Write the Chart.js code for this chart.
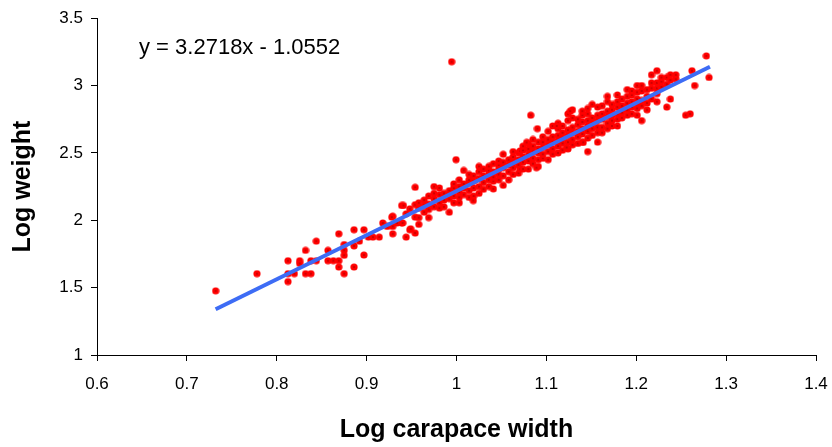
<!DOCTYPE html>
<html>
<head>
<meta charset="utf-8">
<script src="https://cdn.jsdelivr.net/npm/chart.js@4.4.1/dist/chart.umd.min.js"></script>
<style>
  html, body { margin: 0; padding: 0; background: #fff; }
  canvas { display: block; }
</style>
</head>
<body>
<canvas id="chart" width="832" height="447"></canvas>
<script>
// Log carapace width (x) and log weight (y)
const widthX = [
  0.732, 0.778, 0.8125, 0.8125, 0.8125, 0.8196, 0.8255, 0.8255, 0.832, 0.832,
  0.838, 0.838, 0.844, 0.844, 0.857, 0.857, 0.863, 0.869, 0.869, 0.869,
  0.875, 0.875, 0.875, 0.875, 0.886, 0.886, 0.886, 0.892, 0.897, 0.897,
  0.902, 0.907, 0.914, 0.918, 0.923, 0.929, 0.929, 0.929, 0.928, 0.934,
  0.939, 0.939, 0.944, 0.944, 0.948, 0.948, 0.954, 0.954, 0.954, 0.954,
  0.949, 0.941, 0.940,
  0.958, 0.958, 0.958, 0.958,
  0.964, 0.964, 0.964,
  0.969, 0.969, 0.969, 0.969,
  0.975, 0.975, 0.975, 0.975,
  0.981, 0.981, 0.981, 0.981,
  0.986, 0.986, 0.986,
  0.992, 0.992, 0.992, 0.992,
  0.997, 0.997, 0.997, 0.997, 0.9995, 0.9946,
  1.003, 1.003, 1.003, 1.003, 1.003,
  1.008, 1.008, 1.008, 1.008,
  1.014, 1.014, 1.014, 1.014, 1.014,
  1.019, 1.019, 1.019, 1.019, 1.0187,
  1.025, 1.025, 1.025, 1.025, 1.025,
  1.030, 1.030, 1.030, 1.030,
  1.036, 1.036, 1.036, 1.036, 1.036,
  1.041, 1.041, 1.041, 1.041, 1.041,
  1.047, 1.047, 1.047, 1.047, 1.047,
  1.052, 1.052, 1.052, 1.052, 1.052,
  1.058, 1.058, 1.058, 1.058,
  1.063, 1.063, 1.063, 1.063, 1.063,
  1.069, 1.069, 1.069, 1.069, 1.0707, 1.0707,
  1.074, 1.074, 1.074, 1.074, 1.074,
  1.080, 1.080, 1.080, 1.080, 1.080, 1.078,
  1.085, 1.085, 1.085, 1.085, 1.085, 1.0826,
  1.091, 1.091, 1.091, 1.091, 1.091, 1.090, 1.089,
  1.096, 1.096, 1.096, 1.096, 1.096,
  1.102, 1.102, 1.102, 1.102, 1.102,
  1.107, 1.107, 1.107, 1.107, 1.107,
  1.113, 1.113, 1.113, 1.113, 1.113, 1.113, 1.1115,
  1.118, 1.118, 1.118, 1.118, 1.118,
  1.124, 1.124, 1.124, 1.124, 1.124, 1.124, 1.1226,
  1.129, 1.129, 1.129, 1.129, 1.129, 1.129, 1.1265,
  1.135, 1.135, 1.135, 1.135, 1.135,
  1.140, 1.140, 1.140, 1.140, 1.140, 1.140, 1.141,
  1.146, 1.146, 1.146, 1.146, 1.146, 1.146, 1.146,
  1.151, 1.151, 1.151, 1.151, 1.151,
  1.157, 1.157, 1.157, 1.157, 1.157, 1.157,
  1.162, 1.162, 1.162, 1.162, 1.162,
  1.168, 1.168, 1.168, 1.168, 1.168, 1.168,
  1.173, 1.173, 1.173, 1.173, 1.173,
  1.179, 1.179, 1.179, 1.179, 1.179, 1.179,
  1.184, 1.184, 1.184, 1.184,
  1.190, 1.190, 1.190, 1.190, 1.190,
  1.195, 1.195, 1.195, 1.195, 1.195,
  1.201, 1.201, 1.201, 1.201, 1.201, 1.201,
  1.206, 1.206, 1.206, 1.206, 1.206,
  1.212, 1.212, 1.212, 1.212,
  1.217, 1.217, 1.217, 1.217,
  1.223, 1.223, 1.223, 1.223, 1.223,
  1.228, 1.228, 1.228,
  1.234, 1.234, 1.234,
  1.238, 1.238, 1.238,
  1.244, 1.244,
  1.255, 1.260, 1.262, 1.265, 1.278, 1.281
];
const weightY = [
  1.476, 1.604, 1.70, 1.604, 1.545, 1.604, 1.70, 1.68, 1.777, 1.604,
  1.70, 1.604, 1.845, 1.70, 1.777, 1.70, 1.70, 1.90, 1.70, 1.653,
  1.82, 1.777, 1.74, 1.604, 1.93, 1.81, 1.653, 1.845, 1.93, 1.742,
  1.875, 1.875, 1.875, 1.98, 1.954, 1.954, 1.90, 2.03, 2.023, 1.98,
  1.98, 2.11, 1.875, 2.048, 1.93, 2.085, 1.905, 2.245, 2.116, 2.023,
  1.937, 2.11, 1.98,
  2.02, 2.09, 2.13, 1.97,
  2.06, 2.11, 2.15,
  2.02, 2.12, 2.18, 2.08,
  2.10, 2.16, 2.20, 2.25,
  2.09, 2.13, 2.19, 2.24,
  2.10, 2.15, 2.20,
  2.06, 2.16, 2.22, 2.19,
  2.13, 2.18, 2.24, 2.27, 2.45, 3.177,
  2.17, 2.21, 2.25, 2.30, 2.13,
  2.19, 2.24, 2.27, 2.37,
  2.17, 2.22, 2.28, 2.30, 2.34,
  2.18, 2.24, 2.29, 2.33, 2.146,
  2.20, 2.25, 2.31, 2.36, 2.40,
  2.23, 2.28, 2.33, 2.38,
  2.25, 2.30, 2.34, 2.37, 2.40,
  2.29, 2.32, 2.36, 2.42, 2.233,
  2.30, 2.34, 2.38, 2.41, 2.44,
  2.26, 2.33, 2.39, 2.43, 2.49,
  2.30, 2.36, 2.41, 2.45,
  2.34, 2.39, 2.43, 2.47, 2.51,
  2.35, 2.41, 2.45, 2.50, 2.515, 2.38,
  2.38, 2.43, 2.47, 2.52, 2.55,
  2.38, 2.44, 2.49, 2.53, 2.57, 2.578,
  2.42, 2.46, 2.51, 2.55, 2.60, 2.78,
  2.40, 2.45, 2.50, 2.53, 2.58, 2.68, 2.39,
  2.46, 2.49, 2.54, 2.58, 2.62,
  2.45, 2.51, 2.56, 2.60, 2.66,
  2.49, 2.53, 2.58, 2.62, 2.70,
  2.50, 2.55, 2.59, 2.63, 2.68, 2.72, 2.70,
  2.52, 2.57, 2.61, 2.65, 2.70,
  2.53, 2.58, 2.63, 2.67, 2.74, 2.79, 2.54,
  2.56, 2.60, 2.65, 2.69, 2.76, 2.82, 2.81,
  2.57, 2.62, 2.66, 2.71, 2.75,
  2.58, 2.64, 2.68, 2.73, 2.78, 2.81, 2.578,
  2.51, 2.61, 2.66, 2.70, 2.74, 2.79, 2.83,
  2.63, 2.68, 2.72, 2.76, 2.86,
  2.58, 2.65, 2.69, 2.74, 2.78, 2.84,
  2.65, 2.69, 2.75, 2.79, 2.85,
  2.68, 2.72, 2.77, 2.81, 2.88, 2.92,
  2.74, 2.78, 2.82, 2.86, 2.70,
  2.70, 2.75, 2.79, 2.84, 2.88, 2.93,
  2.76, 2.80, 2.85, 2.90,
  2.78, 2.82, 2.87, 2.92, 2.97,
  2.79, 2.84, 2.88, 2.93, 2.96,
  2.78, 2.83, 2.87, 2.90, 2.95, 3.00,
  2.74, 2.85, 2.89, 2.96, 3.00,
  2.82, 2.87, 2.92, 2.97,
  2.90, 2.98, 3.02, 3.08,
  2.88, 2.94, 2.98, 3.02, 3.11,
  2.99, 3.03, 3.06,
  2.84, 3.01, 3.06,
  2.90, 3.04, 3.08,
  3.05, 3.08,
  2.78, 2.79, 3.11, 3.00, 3.22, 3.06
];

// Fitted line (from the chart label) and its x range
const fitSlope = 3.2718;
const fitIntercept = -1.0552;
const fitX = [0.732, 1.282];

// Axis ticks
const xTickValues = [0.6, 0.7, 0.8, 0.9, 1.0, 1.1, 1.2, 1.3, 1.4];
const xTickLabels = ["0.6", "0.7", "0.8", "0.9", "1", "1.1", "1.2", "1.3", "1.4"];
const yTickValues = [1, 1.5, 2, 2.5, 3, 3.5];
const yTickLabels = ["1", "1.5", "2", "2.5", "3", "3.5"];

const FONT = "'Liberation Sans', Arial, sans-serif";

// red marker with the small dark centre dot
function makeMarker() {
  const c = document.createElement("canvas");
  c.width = 8; c.height = 8;
  const g = c.getContext("2d");
  g.fillStyle = "#ff0000";
  g.beginPath();
  g.arc(4, 4, 3.6, 0, Math.PI * 2);
  g.fill();
  g.fillStyle = "#400000";
  g.fillRect(3.5, 3.5, 1, 1);
  return c;
}

const points = widthX.map((x, i) => ({ x: x, y: weightY[i] }));
const fitLine = fitX.map(x => ({ x: x, y: fitSlope * x + fitIntercept }));

const equationLabel = {
  id: "equationLabel",
  afterDraw(chart) {
    const ctx = chart.ctx;
    ctx.save();
    ctx.font = "22px " + FONT;
    ctx.fillStyle = "#000";
    ctx.textBaseline = "alphabetic";
    ctx.fillText("y = " + fitSlope.toFixed(4) + "x - " + (-fitIntercept).toFixed(4), 139, 54);
    ctx.restore();
  }
};

new Chart(document.getElementById("chart"), {
  type: "scatter",
  data: {
    datasets: [
      {
        label: "Fit",
        data: fitLine,
        showLine: true,
        borderColor: "#3d6cf5",
        borderWidth: 4,
        pointRadius: 0,
        order: 0
      },
      {
        label: "Data",
        data: points,
        pointStyle: makeMarker(),
        pointRadius: 4,
        order: 1
      }
    ]
  },
  plugins: [equationLabel],
  options: {
    responsive: false,
    animation: false,
    layout: { padding: { left: 0, right: 16, top: 17, bottom: 0 } },
    plugins: {
      legend: { display: false },
      tooltip: { enabled: false }
    },
    scales: {
      x: {
        type: "linear",
        min: 0.6,
        max: 1.4,
        afterBuildTicks: axis => { axis.ticks = xTickValues.map(v => ({ value: v })); },
        afterFit: axis => {
          axis.height = 92;
          axis.paddingLeft = 0;
          axis.paddingRight = 0;
        },
        ticks: {
          callback: (v, i) => xTickLabels[i],
          color: "#000",
          font: { family: FONT, size: 17 },
          padding: 13,
          maxRotation: 0
        },
        grid: { drawOnChartArea: false, drawTicks: true, tickLength: 6, color: "#000" },
        border: { color: "#000", width: 1 },
        title: {
          display: true,
          text: "Log carapace width",
          color: "#000",
          font: { family: FONT, size: 25, weight: "bold" },
          padding: { top: 0, bottom: 2 }
        }
      },
      y: {
        type: "linear",
        min: 1,
        max: 3.5,
        afterBuildTicks: axis => { axis.ticks = yTickValues.map(v => ({ value: v })); },
        afterFit: axis => { axis.width = 97; },
        ticks: {
          callback: (v, i) => yTickLabels[i],
          color: "#000",
          font: { family: FONT, size: 17 },
          padding: 8
        },
        grid: { drawOnChartArea: false, drawTicks: true, tickLength: 6, color: "#000" },
        border: { color: "#000", width: 1 },
        title: {
          display: true,
          text: "Log weight",
          color: "#000",
          font: { family: FONT, size: 25, weight: "bold" },
          padding: { top: 8, bottom: 0 }
        }
      }
    }
  }
});
</script>
</body>
</html>
